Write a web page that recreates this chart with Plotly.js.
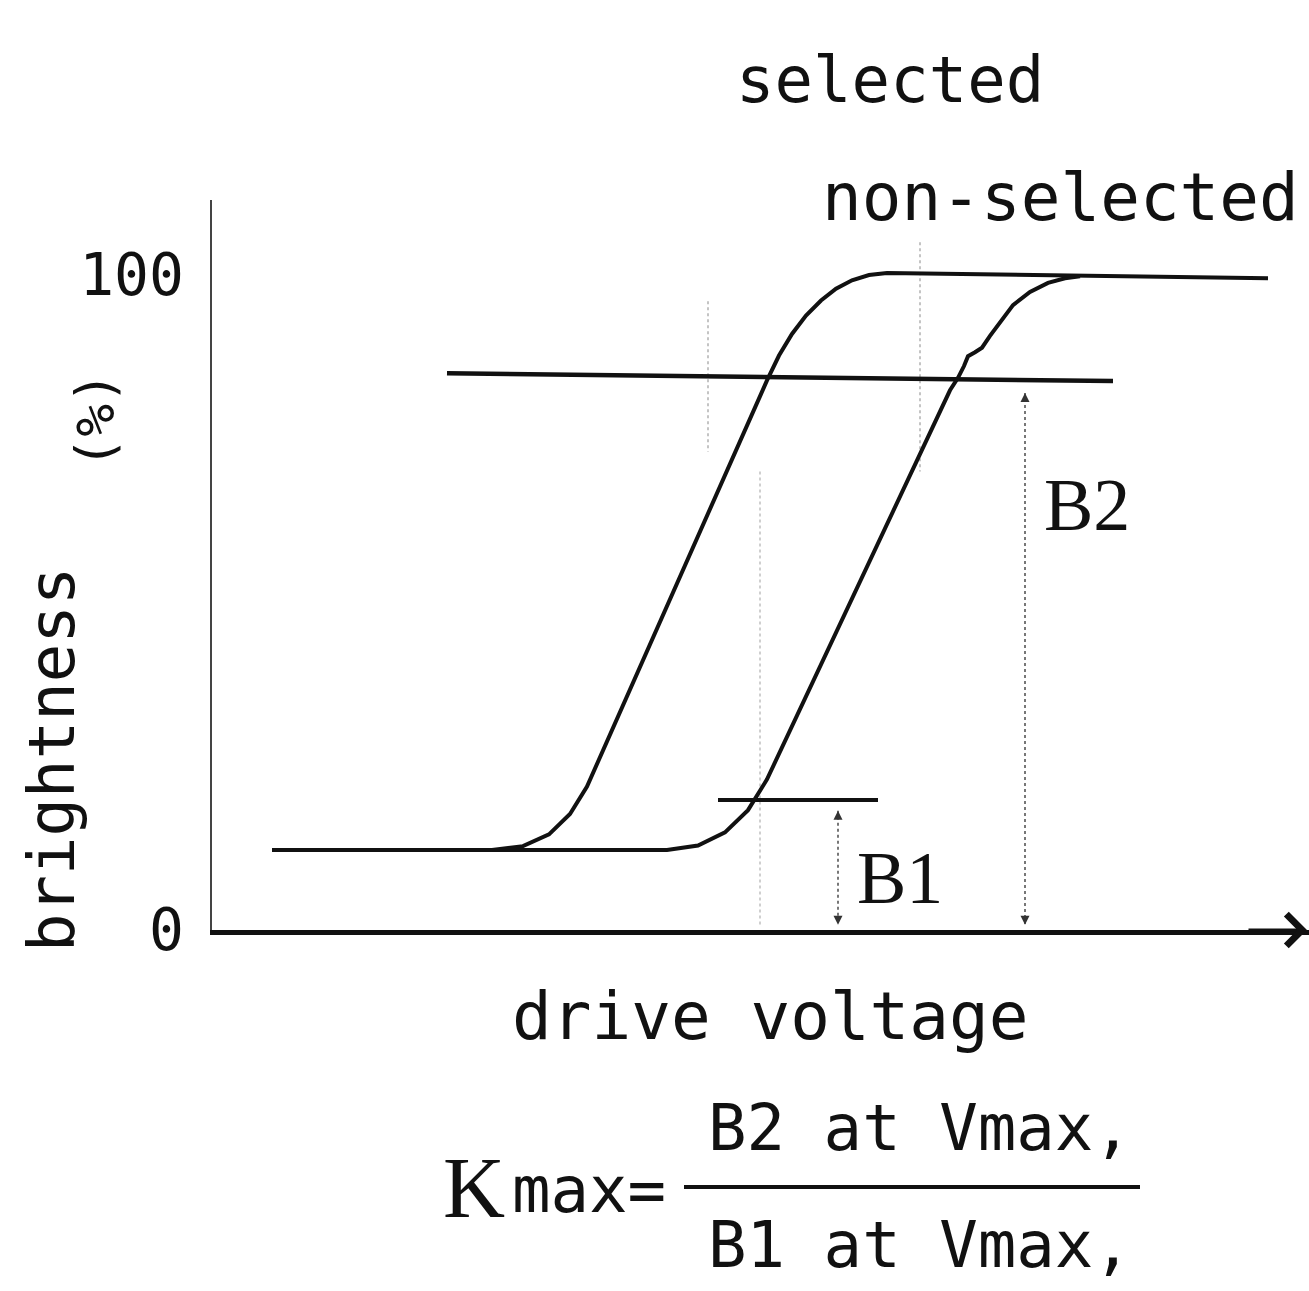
<!DOCTYPE html>
<html>
<head>
<meta charset="utf-8">
<script src="https://cdn.plot.ly/plotly-3.0.1.min.js"></script>
<style>
  html, body { margin: 0; padding: 0; background: #ffffff; }
  #chart { width: 1309px; height: 1291px; }
</style>
</head>
<body>
<div id="chart"></div>
<script>
// ---- data (drive voltage in arbitrary units, brightness in %) ----
const selectedV = [0.60, 2.80, 3.11, 3.37, 3.58, 3.75, 5.55, 5.67, 5.80, 5.94, 6.09, 6.24, 6.40, 6.57, 6.75, 10.56];
const selectedB = [12.2, 12.2, 12.8, 14.6, 17.7, 21.9, 83.9, 87.7, 91.0, 93.8, 96.1, 97.9, 99.2, 100.0, 100.3, 99.5];

const nonSelV = [0.60, 4.55, 4.86, 5.13, 5.36, 5.55, 7.38, 7.46, 7.52, 7.56, 7.63, 7.70, 7.78, 7.88, 8.01, 8.18, 8.36, 8.53, 8.68];
const nonSelB = [12.2, 12.2, 12.9, 14.9, 18.3, 23.0, 82.4, 84.3, 86.1, 87.6, 88.2, 88.9, 90.7, 92.8, 95.4, 97.4, 98.8, 99.5, 99.8];

// B2 reference level (non-selected at Vmax) and B1 reference level (selected at Vmax)
const b2LineV = [2.35, 9.01];
const b2LineB = [85.0, 83.8];
const b1LineV = [5.06, 6.66];
const b1LineB = [19.85, 19.85];

// dimension markers for B1 and B2
const b1DimV = [6.26, 6.26];
const b1DimB = [18.2, 0.8];
const b2DimV = [8.13, 8.13];
const b2DimB = [82.0, 0.8];

// faint leader lines from the "selected" / "non-selected" labels
const leaderSelV = [4.96, 4.96];
const leaderSelB = [96.0, 73.0];
const leaderSel2V = [5.48, 5.48];
const leaderSel2B = [70.0, 0.5];
const leaderNonV = [7.08, 7.08];
const leaderNonB = [105.0, 70.0];

const yTickVals = [0, 100];
const yTickText = ['0', '100'];

// ---- layout helpers (pixel -> paper for label placement) ----
const L = 212, T = 200, PLOT_W = 1097, PLOT_H = 730;
const Y_MAX = 111.45, X_MAX = 10.97;
const PX = px => (px - L) / PLOT_W;
const PY = py => (T + PLOT_H - py) / PLOT_H;

const mono = 'DejaVu Sans Mono, Liberation Mono, monospace';
const serif = 'Liberation Serif, DejaVu Serif, serif';
const ink = '#111111';

const traces = [
  { x: leaderSelV, y: leaderSelB, mode: 'lines', line: { color: '#c4c4c4', width: 2, dash: 'dot' } },
  { x: leaderSel2V, y: leaderSel2B, mode: 'lines', line: { color: '#cfcfcf', width: 2, dash: 'dot' } },
  { x: leaderNonV, y: leaderNonB, mode: 'lines', line: { color: '#c4c4c4', width: 2, dash: 'dot' } },
  { x: b1DimV, y: b1DimB, mode: 'lines', line: { color: '#777', width: 2, dash: 'dot' } },
  { x: b2DimV, y: b2DimB, mode: 'lines', line: { color: '#777', width: 2, dash: 'dot' } },
  { x: b1DimV, y: b1DimB, mode: 'markers', marker: { symbol: ['arrow-up', 'arrow-down'], size: 9, color: '#333' } },
  { x: b2DimV, y: b2DimB, mode: 'markers', marker: { symbol: ['arrow-up', 'arrow-down'], size: 9, color: '#333' } },
  { x: b2LineV, y: b2LineB, mode: 'lines', line: { color: ink, width: 4.5 } },
  { x: b1LineV, y: b1LineB, mode: 'lines', line: { color: ink, width: 4 } },
  { x: nonSelV, y: nonSelB, mode: 'lines', line: { color: ink, width: 4 } },
  { x: selectedV, y: selectedB, mode: 'lines', line: { color: ink, width: 4 } }
];

const ann = (text, px, py, size, font, extra) => Object.assign({
  text: text, x: PX(px), y: PY(py), xref: 'paper', yref: 'paper', showarrow: false,
  font: { family: font, size: size, color: ink }, xanchor: 'center', yanchor: 'middle'
}, extra || {});

const annotations = [
  ann('selected', 890, 80, 64, mono),
  ann('non-selected', 820, 198, 66, mono, { xanchor: 'left' }),
  ann('brightness', 52, 760, 64, mono, { textangle: -90 }),
  ann('(%)', 95, 420, 54, mono, { textangle: -90 }),
  ann('B2', 1087, 505, 74, serif),
  ann('B1', 900, 878, 74, serif),
  ann('drive voltage', 770, 1017, 66, mono),
  ann('K', 474, 1188, 86, serif),
  ann('max=', 510, 1190, 64, mono, { xanchor: 'left' }),
  ann('B2 at Vmax,', 920, 1128, 64, mono),
  ann('B1 at Vmax,', 920, 1245, 64, mono),
  // arrowhead at the end of the drive-voltage axis
  { x: X_MAX - 0.02, y: 0, xref: 'x', yref: 'y', ax: -60, ay: 0, axref: 'pixel', ayref: 'pixel',
    showarrow: true, arrowhead: 4, arrowsize: 1.9, arrowwidth: 3.2, arrowcolor: ink, text: '' }
];

const layout = {
  width: 1309, height: 1291,
  margin: { l: L, r: 0, t: T, b: 1291 - T - PLOT_H, pad: 0 },
  paper_bgcolor: '#ffffff', plot_bgcolor: '#ffffff',
  showlegend: false, hovermode: false,
  xaxis: {
    range: [0, X_MAX], showgrid: false, zeroline: false, showticklabels: false, ticks: '',
    showline: true, linewidth: 4.5, linecolor: ink
  },
  yaxis: {
    range: [0, Y_MAX], showgrid: false, zeroline: false, ticks: '',
    tickvals: yTickVals, ticktext: yTickText, ticklabelstandoff: 14,
    tickfont: { family: mono, size: 58, color: ink },
    showline: true, linewidth: 2.5, linecolor: '#444'
  },
  annotations: annotations,
  shapes: [
    { type: 'line', xref: 'paper', yref: 'paper',
      x0: PX(684), x1: PX(1140), y0: PY(1187), y1: PY(1187),
      line: { color: ink, width: 4 } }
  ]
};

Plotly.newPlot('chart', traces, layout, { staticPlot: true, displayModeBar: false });
</script>
</body>
</html>
